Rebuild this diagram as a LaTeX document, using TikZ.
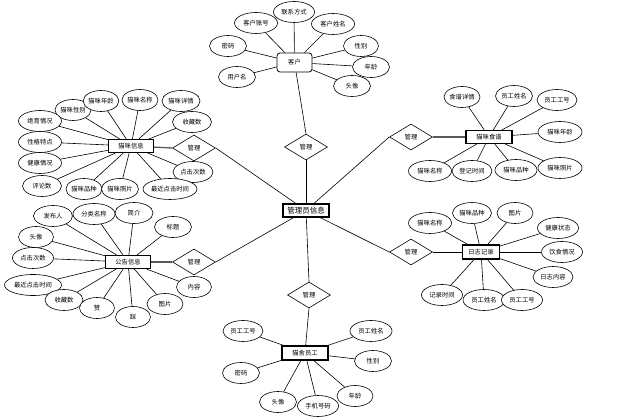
\documentclass[tikz,border=0pt]{standalone}
\usepackage{fontspec}
\newfontfamily\cjk{Noto Sans CJK SC}
\usetikzlibrary{shapes.geometric}
\begin{document}
\begin{tikzpicture}[x=1pt,y=-1pt,
  every node/.style={font=\cjk\fontsize{6.3}{7}\selectfont, inner sep=0pt},
  attr/.style={ellipse, draw, line width=0.6pt, minimum width=40pt, minimum height=21pt, fill=white},
  sm/.style={minimum width=37pt},
  ent/.style={rectangle, draw, line width=1.1pt, minimum width=45pt, minimum height=13pt, fill=white},
  rel/.style={diamond, draw, line width=0.6pt, minimum width=43pt, minimum height=26pt, fill=white},
  ln/.style={line width=0.6pt},
  thk/.style={line width=1.3pt, draw=black!65}]
\useasboundingbox (0,0) rectangle (637,419);
\fill[white] (0,0) rectangle (637,419);

% relationships
\node[rel] (dT) at (306,147) {管理};
\node[rel] (dRU) at (411,137) {管理};
\node[rel] (dRL) at (411,252) {管理};
\node[rel] (dB) at (309,295) {管理};
\node[rel] (dLU) at (194,148) {管理};
\node[rel] (dLL) at (194,262) {管理};

% entities
\node[ent, minimum width=46pt, font=\cjk\fontsize{7.5}{8}\selectfont] (m) at (306,210.5) {管理员信息};
\node[draw, line width=0.8pt, rounded corners=3pt, minimum width=35pt, minimum height=19pt, fill=white] (eK) at (294.5,62.5) {客户};
\node[ent] (eC) at (131,146) {猫咪信息};
\node[ent, minimum width=46pt] (eR) at (489,137) {猫咪食谱};
\node[ent] (eN) at (128,262) {公告信息};
\node[ent, minimum width=37pt, minimum height=14pt] (eL) at (481,252) {日志记录};
\node[ent, minimum width=46pt, minimum height=14pt] (eS) at (305,353) {猫舍员工};

% central links
\draw[ln] (m) -- (dT.south);
\draw[ln] (m) -- (dRU.west);
\draw[ln] (m) -- (dRL.west);
\draw[ln] (m) -- (dB.north);
\draw[ln] (m) -- (dLU.east);
\draw[ln] (m) -- (dLL.east);
\draw[ln] (dT.north) -- (eK);
\draw[thk] (dRU.east) -- (eR);
\draw[ln] (dRL.east) -- (eL);
\draw[ln] (dB.south) -- (eS);
\draw[thk] (dLU.west) -- (eC);
\draw[thk] (dLL.west) -- (eN);

% 客户 attributes
\node[attr, minimum width=43pt] (k1) at (256,23) {客户账号};
\node[attr, minimum width=41pt] (k2) at (294,12) {联系方式};
\node[attr, minimum width=43pt] (k3) at (333,24) {客户姓名};
\node[attr, sm] (k4) at (228,46) {密码};
\node[attr, minimum width=35pt] (k5) at (361,46) {性别};
\node[attr, sm] (k6) at (371,67) {年龄};
\node[attr, sm] (k7) at (352,86) {头像};
\node[attr, sm] (k8) at (237,77) {用户名};
\foreach \a in {k1,k2,k3,k4,k5,k6,k7,k8} \draw[ln] (eK) -- (\a);

% 猫咪信息 attributes
\node[attr, minimum width=36pt] (c1) at (73,110) {猫咪性别};
\node[attr, minimum width=35pt] (c2) at (101,101) {猫咪年龄};
\node[attr, minimum width=36pt] (c3) at (140,100) {猫咪名称};
\node[attr, minimum width=38pt] (c4) at (181,101) {猫咪详情};
\node[attr, minimum width=39pt] (c5) at (192,122) {收藏数};
\node[attr, minimum width=43pt] (c6) at (40,121) {绝育情况};
\node[attr, minimum width=43pt] (c7) at (40,142) {性格特点};
\node[attr, minimum width=43pt] (c8) at (40,163) {健康情况};
\node[attr, minimum width=39pt] (c9) at (42,186) {评论数};
\node[attr, minimum width=40pt] (c10) at (193,172) {点击次数};
\node[attr, minimum width=36pt] (c11) at (84,189) {猫咪品种};
\node[attr, minimum width=37pt] (c12) at (120,189) {猫咪照片};
\node[attr, minimum width=54pt] (c13) at (170,189) {最近点击时间};
\foreach \a in {c1,c2,c3,c4,c5,c6,c7,c8,c9,c10,c11,c12,c13} \draw[ln] (eC) -- (\a);

% 猫咪食谱 attributes
\node[attr, minimum width=36pt] (r1) at (462,97) {食谱详情};
\node[attr, minimum width=37pt] (r2) at (514,96) {员工姓名};
\node[attr, minimum width=40pt] (r3) at (557,100) {员工工号};
\node[attr, minimum width=44pt] (r4) at (560,132) {猫咪年龄};
\node[attr, minimum width=44pt] (r5) at (560,168) {猫咪照片};
\node[attr, minimum width=43pt] (r6) at (430,171) {猫咪名称};
\node[attr, minimum width=40pt] (r7) at (472,171) {登记时间};
\node[attr, minimum width=42pt] (r8) at (516,170) {猫咪品种};
\foreach \a in {r1,r2,r3,r4,r5,r6,r7,r8} \draw[ln] (eR) -- (\a);

% 公告信息 attributes
\node[attr, minimum width=39pt] (n1) at (53,216) {发布人};
\node[attr, minimum width=42pt] (n2) at (94,214) {分类名称};
\node[attr, minimum width=38pt] (n3) at (134,213) {简介};
\node[attr, minimum width=37pt] (n4) at (173,227) {标题};
\node[attr, minimum width=35pt] (n5) at (36,237) {头像};
\node[attr, minimum width=41pt] (n6) at (33,258) {点击次数};
\node[attr, minimum width=57pt] (n7) at (33,285) {最近点击时间};
\node[attr, minimum width=38pt] (n8) at (64,300) {收藏数};
\node[attr, minimum width=35pt] (n9) at (97,308) {赞};
\node[attr, minimum width=35pt] (n10) at (133,317) {踩};
\node[attr, minimum width=36pt] (n11) at (165,304) {图片};
\node[attr, minimum width=35pt] (n12) at (194,287) {内容};
\foreach \a in {n1,n2,n3,n4,n5,n6,n7,n8,n9,n10,n11,n12} \draw[ln] (eN) -- (\a);

% 日志记录 attributes
\node[attr, minimum width=43pt] (l1) at (430,223) {猫咪名称};
\node[attr, minimum width=39pt] (l2) at (472,213) {猫咪品种};
\node[attr, minimum width=36pt] (l3) at (515,213) {图片};
\node[attr, minimum width=41pt] (l4) at (558,228) {健康状态};
\node[attr, minimum width=41pt] (l5) at (562,252) {饮食情况};
\node[attr, minimum width=40pt] (l6) at (553,277) {日志内容};
\node[attr, minimum width=41pt] (l7) at (442,295) {记录时间};
\node[attr, minimum width=42pt] (l8) at (484,300) {员工姓名};
\node[attr, minimum width=41pt] (l9) at (522,300) {员工工号};
\foreach \a in {l1,l2,l3,l4,l5,l6,l7,l8,l9} \draw[ln] (eL) -- (\a);

% 猫舍员工 attributes
\node[attr, minimum width=40pt] (s1) at (243,331) {员工工号};
\node[attr, minimum width=37pt] (s2) at (241,373) {密码};
\node[attr, minimum width=37pt] (s3) at (278,402) {头像};
\node[attr, minimum width=41pt] (s4) at (318,406) {手机号码};
\node[attr, minimum width=36pt] (s5) at (355,396) {年龄};
\node[attr, minimum width=37pt] (s6) at (373,361) {性别};
\node[attr, minimum width=42pt] (s7) at (371,331) {员工姓名};
\foreach \a in {s1,s2,s3,s4,s5,s6,s7} \draw[ln] (eS) -- (\a);

% redraw ellipses above lines (lines are drawn after nodes but clipped at borders)
\end{tikzpicture}
\end{document}
